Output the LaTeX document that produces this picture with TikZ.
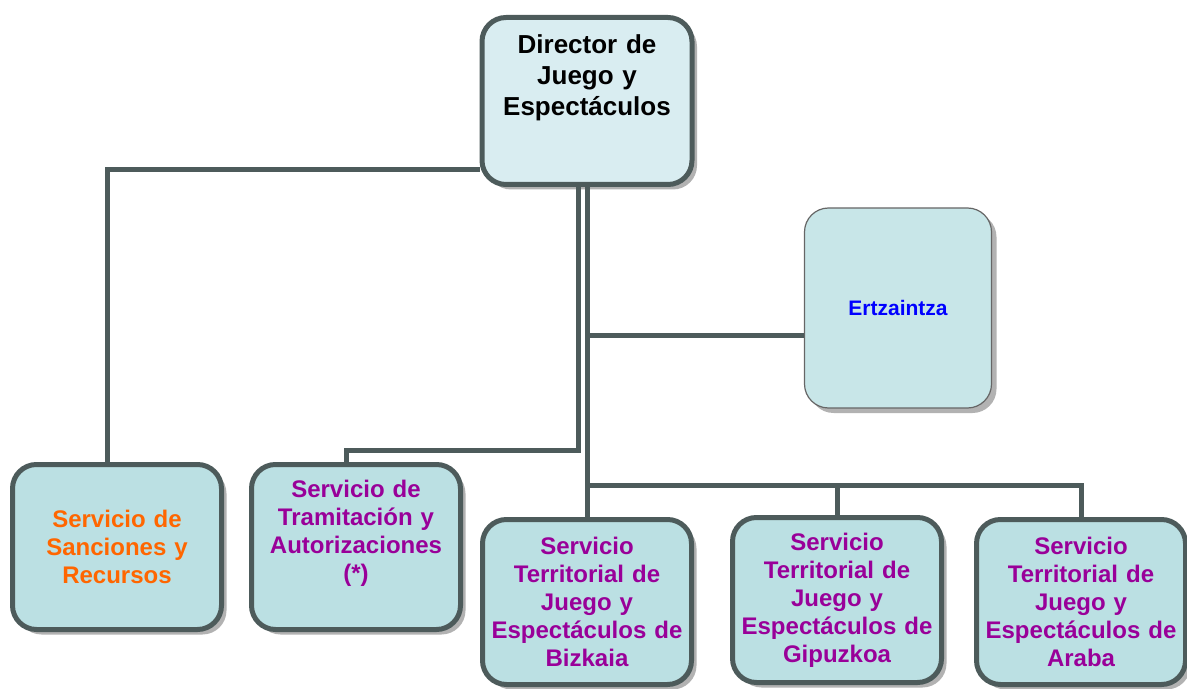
\documentclass[tikz,border=0pt]{standalone}
\usepackage{fontspec}
\setmainfont{Liberation Sans}
\usetikzlibrary{shadows}
\definecolor{linkgray}{HTML}{4D5B5B}
\definecolor{headfill}{HTML}{D9EDF1}
\definecolor{boxfill}{HTML}{BBE0E3}
\definecolor{auxfill}{HTML}{C8E6E8}
\definecolor{servpurple}{HTML}{990099}
\definecolor{servorange}{HTML}{FF6600}
\tikzset{
    unit/.style={rectangle,rounded corners=12pt,draw=linkgray,line width=2.5pt,fill=boxfill,
        minimum width=104.5pt,minimum height=82.5pt,text width=98pt,align=center,inner sep=2pt,
        font=\bfseries\fontsize{12}{14}\selectfont,
        drop shadow={shadow xshift=2.5pt,shadow yshift=-2.5pt,fill=black!30,opacity=1}},
    head/.style={unit,fill=headfill,minimum width=105pt,minimum height=83.5pt,
        font=\bfseries\fontsize{13}{15.5}\selectfont},
    aux/.style={unit,draw=black!60,line width=0.6pt,fill=auxfill,minimum width=93.5pt,
        text width=85pt,minimum height=100pt,font=\bfseries\fontsize{10.5}{12.6}\selectfont},
    link/.style={draw=linkgray,line width=2.5pt}
}

\begin{document}
\begin{tikzpicture}[x=0.5pt,y=-0.5pt]

    \useasboundingbox (0,0) rectangle (1187,689);

    \node[head] (director)   at (587,101)  {Director de\\Juego y\\Espectáculos\\[10pt]~};
    \node[aux,text=blue] (ertzaintza) at (898,308) {Ertzaintza};

    \node[unit,text=servorange] (sanciones)  at (117,547)  {Servicio de\\Sanciones y\\Recursos};
    \node[unit,text=servpurple] (tramitacion) at (356,547) {Servicio de\\Tramitación y\\Autorizaciones\\(*)\\[2pt]~};
    \node[unit,text=servpurple] (bizkaia)    at (587,602)  {Servicio\\Territorial de\\Juego y\\Espectáculos de\\Bizkaia};
    \node[unit,text=servpurple] (gipuzkoa)   at (837,600)  {Servicio\\Territorial de\\Juego y\\Espectáculos de\\Gipuzkoa};
    \node[unit,text=servpurple] (araba)      at (1081,602) {Servicio\\Territorial de\\Juego y\\Espectáculos de\\Araba};

    % connectors
    \draw[link] (director.west |- 0,170) -- (107,170) -- (sanciones.north -| 107,0);
    \draw[link] (director.south -| 578,0) -- (578,450) -- (346,450) -- (tramitacion.north -| 346,0);
    \draw[link] (director.south) -- (bizkaia.north);
    \draw[link] (director.south |- 0,336) -- (ertzaintza.west |- 0,336);
    \draw[link] (bizkaia.north |- 0,485) -| (araba.north);
    \draw[link] (gipuzkoa.north |- 0,485) -- (gipuzkoa.north);

\end{tikzpicture}
\end{document}
